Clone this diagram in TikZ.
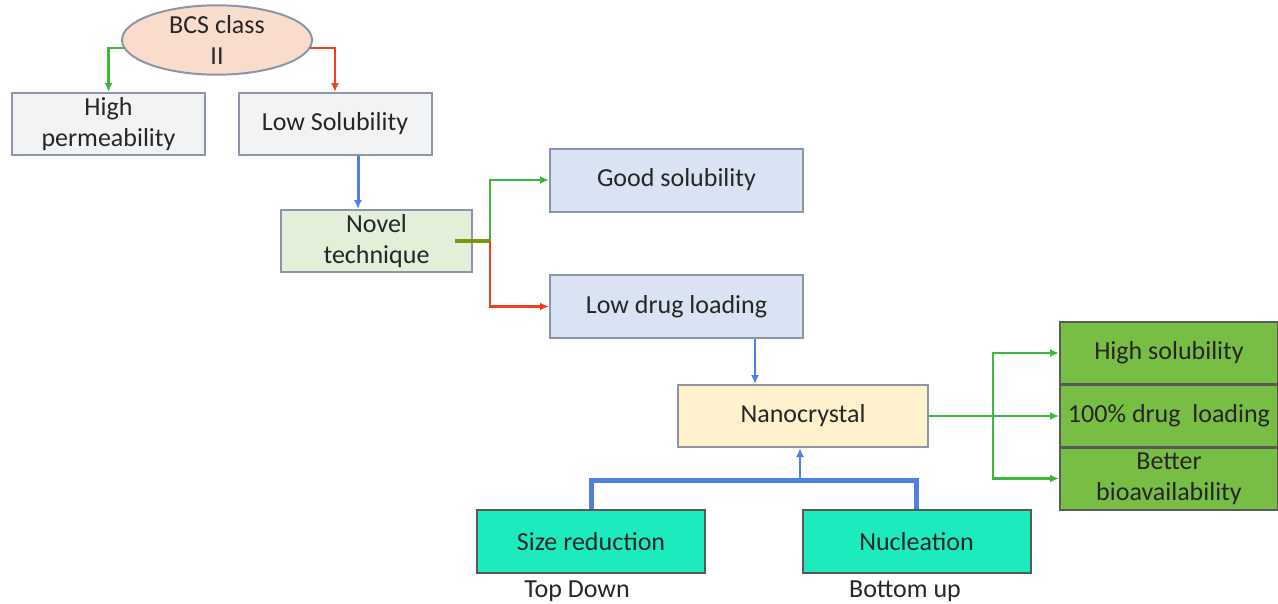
\documentclass[tikz,border=0pt]{standalone}
\usepackage{fontspec}
\setmainfont{Carlito}
\usetikzlibrary{arrows.meta,shapes.geometric}

\definecolor{boxgray}{HTML}{F1F3F5}
\definecolor{boxedge}{HTML}{8C96A8}
\definecolor{ellfill}{HTML}{F9DCCB}
\definecolor{novfill}{HTML}{E3EFD9}
\definecolor{bluefill}{HTML}{DAE3F3}
\definecolor{nanofill}{HTML}{FFF1CC}
\definecolor{resfill}{HTML}{78BE45}
\definecolor{aquafill}{HTML}{1CEBBD}
\definecolor{arrgreen}{HTML}{3CB83C}
\definecolor{arrred}{HTML}{F0401E}
\definecolor{arrblue}{HTML}{4F7FE0}

\begin{document}
\begin{tikzpicture}[x=1pt,y=-1pt,every node/.style={align=center,text=black!85,font=\fontsize{26}{31}\selectfont},
	box/.style={draw=boxedge,line width=2pt,rectangle,inner sep=2pt},
	gbox/.style={box,fill=boxgray,minimum width=193pt,minimum height=62pt},
	bbox/.style={box,fill=bluefill,minimum width=253pt,minimum height=63pt},
	rbox/.style={box,draw=black!65,fill=resfill,minimum width=218pt,minimum height=62pt},
	abox/.style={box,draw=black!65,fill=aquafill,minimum width=228pt,minimum height=63pt},
	link/.style={line width=2.4pt,-{Latex[length=9pt,width=8pt]}},
	thick link/.style={line width=5pt,draw=arrblue}]
	\useasboundingbox (0,0) rectangle (1278,603);
	% nodes
	\node [ellipse,draw=boxedge,line width=2pt,fill=ellfill,minimum width=190pt,minimum height=64pt,inner sep=0pt] (bcs) at (217,40) {BCS class\\II};
	\node [gbox] (perm) at (108.5,124) {High\\permeability};
	\node [gbox] (sol) at (335,124) {Low Solubility};
	\node [box,fill=novfill,minimum width=191pt,minimum height=62pt] (novel) at (376.5,241) {Novel\\technique};
	\node [bbox] (good) at (676.5,180) {Good solubility};
	\node [bbox] (low) at (676.5,306.5) {Low drug loading};
	\node [box,fill=nanofill,minimum width=250pt,minimum height=62pt] (nano) at (803,416) {Nanocrystal};
	\node [rbox] (hsol) at (1169,353) {High solubility};
	\node [rbox] (load) at (1169,416) {100\% drug\ \ loading};
	\node [rbox] (bio) at (1169,478.5) {Better\\bioavailability};
	\node [abox] (size) at (591,541.5) {Size reduction};
	\node [abox] (nucl) at (916.5,541.5) {Nucleation};
	\node (top) at (577,591) {Top Down};
	\node (bottom) at (905,591) {Bottom up};
	% connectors
	\draw [link,arrgreen] (bcs.west) ++(3,8) -| (perm.north);
	\draw [link,arrred] (bcs.east) ++(-3,8) -| (sol.north);
	\draw [link,arrblue,line width=3pt] (sol.south -| 358,0) -- (novel.north -| 358,0);
	\coordinate (split) at (490,241);
	\draw [line width=4pt,draw=olive!70!green] ([xshift=-18pt]novel.east) -- (split);
	\draw [link,arrgreen] (split) |- (good.west);
	\draw [link,arrred] (split) |- (low.west);
	\draw [link,arrblue] (low.south -| 755,0) -- (nano.north -| 755,0);
	\coordinate (fork) at (993,416);
	\draw [link,arrgreen] (nano.east) -- (load.west);
	\draw [link,arrgreen] (fork) |- (hsol.west);
	\draw [link,arrgreen] (fork) |- (bio.west);
	\coordinate (join) at (800,480);
	\draw [thick link] (size.north) |- (join) -| (nucl.north);
	\draw [thick link,line width=2.6pt,-{Latex[length=9pt,width=8pt]}] (join) -- (nano.south -| join);
\end{tikzpicture}
\end{document}
